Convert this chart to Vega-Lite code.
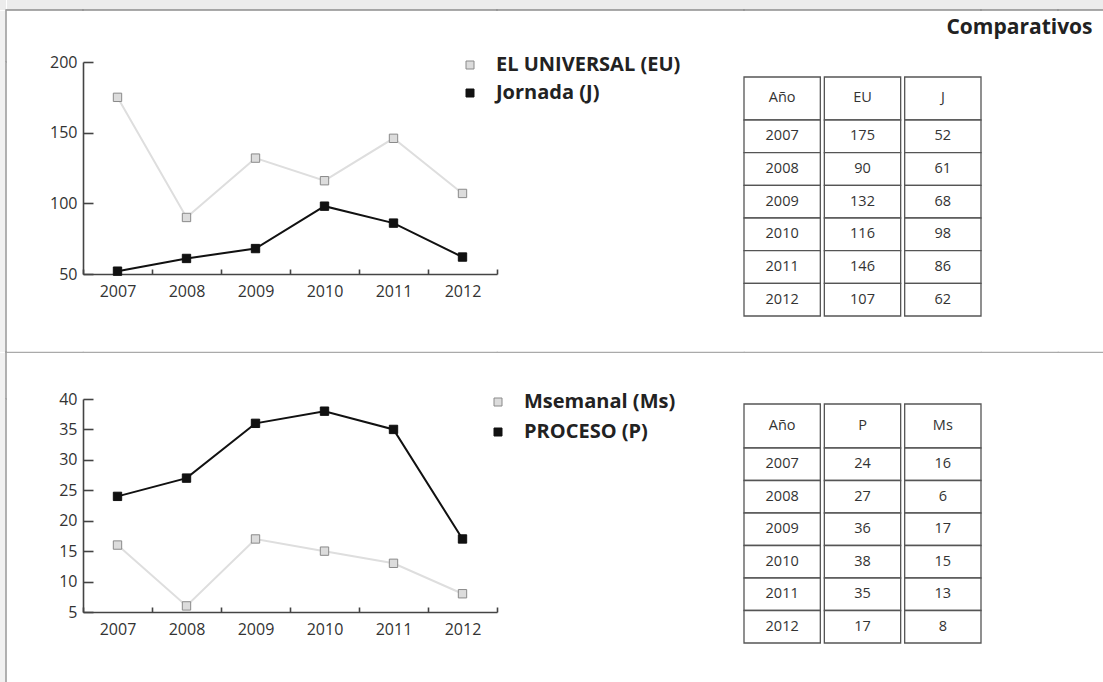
{
  "$schema": "https://vega.github.io/schema/vega-lite/v6.json",
  "padding": 0,
  "background": "white",
  "columns": 8,
  "align": "each",
  "bounds": "flush",
  "spacing": 0,
  "resolve": {
    "scale": {"color": "independent", "fill": "independent", "stroke": "independent"},
    "legend": {"color": "independent", "fill": "independent", "stroke": "independent"}
  },
  "config": {
    "view": {"stroke": null},
    "font": "Open Sans",
    "axis": {
      "domainColor": "#444444", "domainWidth": 1.6,
      "tickColor": "#444444", "tickWidth": 1.6,
      "labelColor": "#333333", "labelFontSize": 16, "labelFont": "Open Sans",
      "grid": false, "title": null
    },
    "legend": {"labelLimit": 400}
  },
  "datasets": {
    "d1": [
      {"Año": "2007", "EU": 175, "J": 52},
      {"Año": "2008", "EU": 90, "J": 61},
      {"Año": "2009", "EU": 132, "J": 68},
      {"Año": "2010", "EU": 116, "J": 98},
      {"Año": "2011", "EU": 146, "J": 86},
      {"Año": "2012", "EU": 107, "J": 62}
    ],
    "d2": [
      {"Año": "2007", "P": 24, "Ms": 16},
      {"Año": "2008", "P": 27, "Ms": 6},
      {"Año": "2009", "P": 36, "Ms": 17},
      {"Año": "2010", "P": 38, "Ms": 15},
      {"Año": "2011", "P": 35, "Ms": 13},
      {"Año": "2012", "P": 17, "Ms": 8}
    ],
    "h1": [{"col": "Año", "fila": "encabezado"}, {"col": "EU", "fila": "encabezado"}, {"col": "J", "fila": "encabezado"}],
    "h2": [{"col": "Año", "fila": "encabezado"}, {"col": "P", "fila": "encabezado"}, {"col": "Ms", "fila": "encabezado"}],
    "t": [{"t": "Comparativos"}],
    "empty": []
  },
  "concat": [
    {"width": 6, "height": 10, "data": {"name": "empty"}, "mark": "point", "view": {"fill": "#ececec", "stroke": null}},
    {"width": 0.01, "height": 10, "data": {"name": "empty"}, "mark": "point", "view": {"fill": "#ececec", "stroke": null}},
    {"width": 76, "height": 10, "data": {"name": "empty"}, "mark": "point", "view": {"fill": "#ececec", "stroke": null}},
    {"width": 414, "height": 10, "data": {"name": "empty"}, "mark": "point", "view": {"fill": "#ececec", "stroke": null}},
    {"width": 247, "height": 10, "data": {"name": "empty"}, "mark": "point", "view": {"fill": "#ececec", "stroke": null}},
    {"width": 237, "height": 10, "data": {"name": "empty"}, "mark": "point", "view": {"fill": "#ececec", "stroke": null}},
    {"width": 77, "height": 10, "data": {"name": "empty"}, "mark": "point", "view": {"fill": "#ececec", "stroke": null}},
    {"width": 46, "height": 10, "data": {"name": "empty"}, "mark": "point", "view": {"fill": "#ececec", "stroke": null}},

    {"width": 6, "height": 0.01, "data": {"name": "empty"}, "mark": "point", "view": {"fill": "#f1f1f1", "stroke": null}},
    {"width": 0.01, "height": 0.01, "data": {"name": "empty"}, "mark": "point", "view": {"stroke": "#999999", "strokeWidth": 1.5}},
    {"width": 76, "height": 0.01, "data": {"name": "empty"}, "mark": "point", "view": {"stroke": "#8c8c8c", "strokeWidth": 1.5}},
    {"width": 414, "height": 0.01, "data": {"name": "empty"}, "mark": "point", "view": {"stroke": "#8c8c8c", "strokeWidth": 1.5}},
    {"width": 247, "height": 0.01, "data": {"name": "empty"}, "mark": "point", "view": {"stroke": "#8c8c8c", "strokeWidth": 1.5}},
    {"width": 237, "height": 0.01, "data": {"name": "empty"}, "mark": "point", "view": {"stroke": "#8c8c8c", "strokeWidth": 1.5}},
    {"width": 77, "height": 0.01, "data": {"name": "empty"}, "mark": "point", "view": {"stroke": "#8c8c8c", "strokeWidth": 1.5}},
    {"width": 46, "height": 0.01, "data": {"name": "empty"}, "mark": "point", "view": {"stroke": "#8c8c8c", "strokeWidth": 1.5}},

    {"width": 6, "height": 51, "data": {"name": "empty"}, "mark": "point", "view": {"fill": "#f1f1f1", "stroke": null}},
    {"width": 0.01, "height": 51, "data": {"name": "empty"}, "mark": "point", "view": {"stroke": "#999999", "strokeWidth": 1.5}},
    {"width": 0.01, "height": 0.01, "data": {"name": "empty"}, "mark": "point"},
    {"width": 0.01, "height": 0.01, "data": {"name": "empty"}, "mark": "point"},
    {"width": 0.01, "height": 0.01, "data": {"name": "empty"}, "mark": "point"},
    {"width": 0.01, "height": 0.01, "data": {"name": "empty"}, "mark": "point"},
    {"width": 77, "height": 33, "data": {"name": "t"},
     "mark": {"type": "text", "fontSize": 21, "fontWeight": "bold", "color": "#222222"},
     "encoding": {"text": {"field": "t"}}},
    {"width": 0.01, "height": 0.01, "data": {"name": "empty"}, "mark": "point"},

    {"width": 6, "height": 290, "data": {"name": "empty"}, "mark": "point", "view": {"fill": "#f1f1f1", "stroke": null}},
    {"width": 0.01, "height": 290, "data": {"name": "empty"}, "mark": "point", "view": {"stroke": "#999999", "strokeWidth": 1.5}},
    {"width": 0.01, "height": 0.01, "data": {"name": "empty"}, "mark": "point"},
    {
      "width": 414, "height": 212,
      "data": {"name": "d1"},
      "transform": [{"fold": ["EU", "J"], "as": ["serie", "valor"]}],
      "encoding": {
        "x": {"field": "Año", "type": "ordinal", "scale": {"type": "band", "paddingInner": 0, "paddingOuter": 0},
              "axis": {"labelAngle": 0, "tickBand": "extent", "tickSize": -5, "labelPadding": 14}},
        "y": {"field": "valor", "type": "quantitative", "scale": {"domain": [50, 200], "nice": false, "zero": false},
              "axis": {"values": [50, 100, 150, 200], "tickSize": -10, "labelPadding": 16}}
      },
      "layer": [
        {"mark": {"type": "line", "strokeWidth": 2},
         "encoding": {"color": {"field": "serie", "type": "nominal", "scale": {"range": ["#dedede", "#111111"]}, "legend": null}}},
        {"mark": {"type": "point", "shape": "square", "filled": true, "size": 70, "strokeWidth": 1, "opacity": 1},
         "encoding": {
           "fill": {"field": "serie", "type": "nominal", "scale": {"domain": ["EU", "J"], "range": ["#dcdcdc", "#111111"]},
                    "legend": {"orient": "none", "legendX": 377, "legendY": -7, "title": null, "labelFontSize": 20, "labelFontWeight": "bold", "labelColor": "#222222", "symbolSize": 64, "symbolType": "square", "labelOffset": 16, "rowPadding": 8, "padding": 0, "symbolStrokeWidth": 1,
                               "labelExpr": "datum.label == 'EU' ? 'EL UNIVERSAL (EU)' : 'Jornada (J)'"}},
           "stroke": {"field": "serie", "type": "nominal", "scale": {"domain": ["EU", "J"], "range": ["#8a8a8a", "#111111"]},
                    "legend": {"orient": "none", "legendX": 377, "legendY": -7, "title": null, "labelFontSize": 20, "labelFontWeight": "bold", "labelColor": "#222222", "symbolSize": 64, "symbolType": "square", "labelOffset": 16, "rowPadding": 8, "padding": 0, "symbolStrokeWidth": 1,
                               "labelExpr": "datum.label == 'EU' ? 'EL UNIVERSAL (EU)' : 'Jornada (J)'"}}
         }}
      ]
    },
    {"width": 0.01, "height": 0.01, "data": {"name": "empty"}, "mark": "point"},
    {
      "width": 237, "height": 254,
      "resolve": {"scale": {"y": "independent"}},
      "layer": [
        {
          "data": {"name": "h1"},
          "encoding": {
            "x": {"field": "col", "type": "nominal", "sort": ["Año", "EU", "J"], "scale": {"paddingInner": 0.05, "paddingOuter": 0}, "axis": null},
            "y": {"field": "fila", "type": "nominal", "scale": {"type": "band", "paddingInner": 0.592417, "paddingOuter": 1, "align": 0.07109, "round": false}, "axis": null}
          },
          "layer": [
            {"mark": {"type": "rect", "fill": "white", "stroke": "#555555", "strokeWidth": 1.3}},
            {"mark": {"type": "text", "fontSize": 14.5, "color": "#333333"}, "encoding": {"text": {"field": "col"}}}
          ]
        },
        {
          "data": {"name": "d1"},
          "transform": [{"fold": ["Año", "EU", "J"], "as": ["col", "val"]}],
          "encoding": {
            "x": {"field": "col", "type": "nominal", "sort": ["Año", "EU", "J"], "scale": {"paddingInner": 0.05, "paddingOuter": 0}, "axis": null},
            "y": {"field": "Año", "type": "ordinal", "scale": {"type": "band", "paddingInner": 0, "paddingOuter": 0.8878, "align": 1, "round": false}, "axis": null}
          },
          "layer": [
            {"mark": {"type": "rect", "fill": "white", "stroke": "#555555", "strokeWidth": 1.3}},
            {"mark": {"type": "text", "fontSize": 14.5, "color": "#333333"}, "encoding": {"text": {"field": "val"}}}
          ]
        }
      ]
    },
    {"width": 0.01, "height": 0.01, "data": {"name": "empty"}, "mark": "point"},
    {"width": 0.01, "height": 0.01, "data": {"name": "empty"}, "mark": "point"},

    {"width": 6, "height": 0.01, "data": {"name": "empty"}, "mark": "point", "view": {"fill": "#f1f1f1", "stroke": null}},
    {"width": 0.01, "height": 0.01, "data": {"name": "empty"}, "mark": "point", "view": {"stroke": "#999999", "strokeWidth": 1.5}},
    {"width": 76, "height": 0.01, "data": {"name": "empty"}, "mark": "point", "view": {"stroke": "#aaaaaa", "strokeWidth": 1.2}},
    {"width": 414, "height": 0.01, "data": {"name": "empty"}, "mark": "point", "view": {"stroke": "#aaaaaa", "strokeWidth": 1.2}},
    {"width": 247, "height": 0.01, "data": {"name": "empty"}, "mark": "point", "view": {"stroke": "#aaaaaa", "strokeWidth": 1.2}},
    {"width": 237, "height": 0.01, "data": {"name": "empty"}, "mark": "point", "view": {"stroke": "#aaaaaa", "strokeWidth": 1.2}},
    {"width": 77, "height": 0.01, "data": {"name": "empty"}, "mark": "point", "view": {"stroke": "#aaaaaa", "strokeWidth": 1.2}},
    {"width": 46, "height": 0.01, "data": {"name": "empty"}, "mark": "point", "view": {"stroke": "#aaaaaa", "strokeWidth": 1.2}},

    {"width": 6, "height": 46, "data": {"name": "empty"}, "mark": "point", "view": {"fill": "#f1f1f1", "stroke": null}},
    {"width": 0.01, "height": 46, "data": {"name": "empty"}, "mark": "point", "view": {"stroke": "#999999", "strokeWidth": 1.5}},
    {"width": 0.01, "height": 0.01, "data": {"name": "empty"}, "mark": "point"},
    {"width": 0.01, "height": 0.01, "data": {"name": "empty"}, "mark": "point"},
    {"width": 0.01, "height": 0.01, "data": {"name": "empty"}, "mark": "point"},
    {"width": 0.01, "height": 0.01, "data": {"name": "empty"}, "mark": "point"},
    {"width": 0.01, "height": 0.01, "data": {"name": "empty"}, "mark": "point"},
    {"width": 0.01, "height": 0.01, "data": {"name": "empty"}, "mark": "point"},

    {"width": 6, "height": 285, "data": {"name": "empty"}, "mark": "point", "view": {"fill": "#f1f1f1", "stroke": null}},
    {"width": 0.01, "height": 285, "data": {"name": "empty"}, "mark": "point", "view": {"stroke": "#999999", "strokeWidth": 1.5}},
    {"width": 0.01, "height": 0.01, "data": {"name": "empty"}, "mark": "point"},
    {
      "width": 414, "height": 213,
      "data": {"name": "d2"},
      "transform": [{"fold": ["Ms", "P"], "as": ["serie", "valor"]}],
      "encoding": {
        "x": {"field": "Año", "type": "ordinal", "scale": {"type": "band", "paddingInner": 0, "paddingOuter": 0},
              "axis": {"labelAngle": 0, "tickBand": "extent", "tickSize": -5, "labelPadding": 14}},
        "y": {"field": "valor", "type": "quantitative", "scale": {"domain": [5, 40], "nice": false, "zero": false},
              "axis": {"values": [5, 10, 15, 20, 25, 30, 35, 40], "tickSize": -10, "labelPadding": 16}}
      },
      "layer": [
        {"mark": {"type": "line", "strokeWidth": 2},
         "encoding": {"color": {"field": "serie", "type": "nominal", "scale": {"range": ["#dedede", "#111111"]}, "legend": null}}},
        {"mark": {"type": "point", "shape": "square", "filled": true, "size": 70, "strokeWidth": 1, "opacity": 1},
         "encoding": {
           "fill": {"field": "serie", "type": "nominal", "scale": {"domain": ["Ms", "P"], "range": ["#dcdcdc", "#111111"]},
                    "legend": {"orient": "none", "legendX": 405, "legendY": -7, "title": null, "labelFontSize": 20, "labelFontWeight": "bold", "labelColor": "#222222", "symbolSize": 64, "symbolType": "square", "labelOffset": 16, "rowPadding": 10, "padding": 0, "symbolStrokeWidth": 1,
                               "labelExpr": "datum.label == 'Ms' ? 'Msemanal (Ms)' : 'PROCESO (P)'"}},
           "stroke": {"field": "serie", "type": "nominal", "scale": {"domain": ["Ms", "P"], "range": ["#8a8a8a", "#111111"]},
                    "legend": {"orient": "none", "legendX": 405, "legendY": -7, "title": null, "labelFontSize": 20, "labelFontWeight": "bold", "labelColor": "#222222", "symbolSize": 64, "symbolType": "square", "labelOffset": 16, "rowPadding": 10, "padding": 0, "symbolStrokeWidth": 1,
                               "labelExpr": "datum.label == 'Ms' ? 'Msemanal (Ms)' : 'PROCESO (P)'"}}
         }}
      ]
    },
    {"width": 0.01, "height": 0.01, "data": {"name": "empty"}, "mark": "point"},
    {
      "width": 237, "height": 244,
      "resolve": {"scale": {"y": "independent"}},
      "layer": [
        {
          "data": {"name": "h2"},
          "encoding": {
            "x": {"field": "col", "type": "nominal", "sort": ["Año", "P", "Ms"], "scale": {"paddingInner": 0.05, "paddingOuter": 0}, "axis": null},
            "y": {"field": "fila", "type": "nominal", "scale": {"type": "band", "paddingInner": 0.56, "paddingOuter": 1, "align": 0.025, "round": false}, "axis": null}
          },
          "layer": [
            {"mark": {"type": "rect", "fill": "white", "stroke": "#555555", "strokeWidth": 1.3}},
            {"mark": {"type": "text", "fontSize": 14.5, "color": "#333333"}, "encoding": {"text": {"field": "col"}}}
          ]
        },
        {
          "data": {"name": "d2"},
          "transform": [{"fold": ["Año", "P", "Ms"], "as": ["col", "val"]}],
          "encoding": {
            "x": {"field": "col", "type": "nominal", "sort": ["Año", "P", "Ms"], "scale": {"paddingInner": 0.05, "paddingOuter": 0}, "axis": null},
            "y": {"field": "Año", "type": "ordinal", "scale": {"type": "band", "paddingInner": 0, "paddingOuter": 0.75385, "align": 1, "round": false}, "axis": null}
          },
          "layer": [
            {"mark": {"type": "rect", "fill": "white", "stroke": "#555555", "strokeWidth": 1.3}},
            {"mark": {"type": "text", "fontSize": 14.5, "color": "#333333"}, "encoding": {"text": {"field": "val"}}}
          ]
        }
      ]
    },
    {"width": 0.01, "height": 0.01, "data": {"name": "empty"}, "mark": "point"},
    {"width": 0.01, "height": 0.01, "data": {"name": "empty"}, "mark": "point"}
  ]
}
